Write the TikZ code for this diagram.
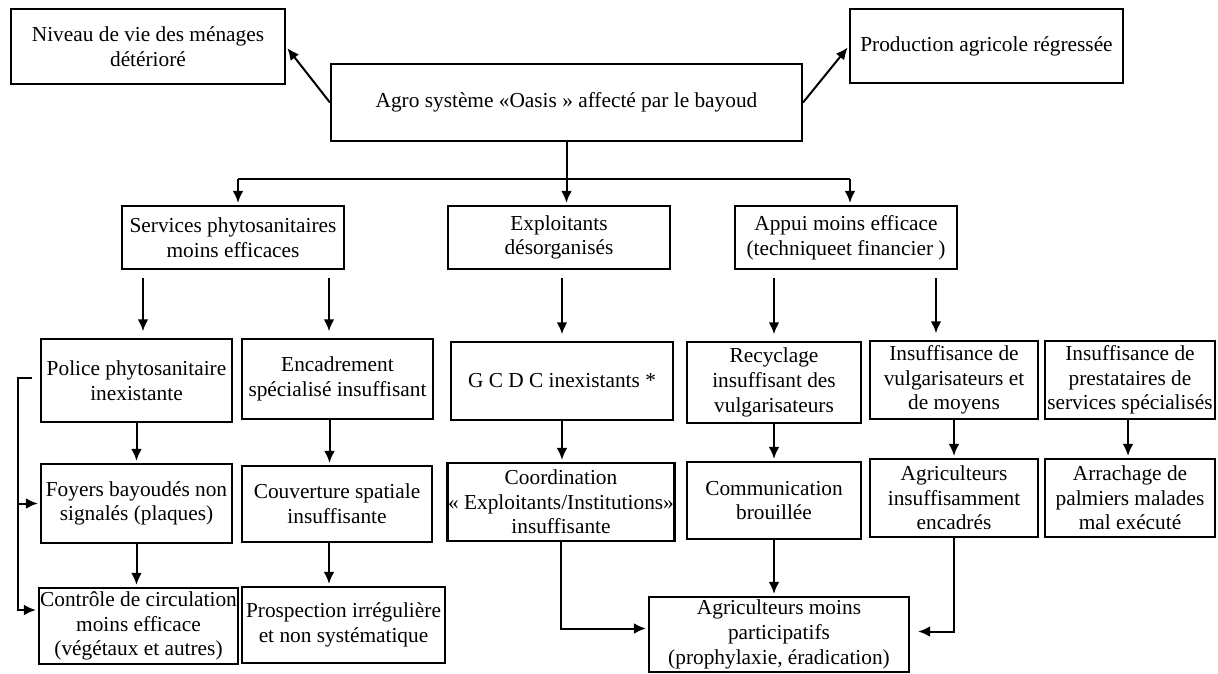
\documentclass[tikz,border=0pt]{standalone}
\usepackage{fontspec}
\setmainfont{Liberation Serif}
\usetikzlibrary{arrows.meta,calc}
\tikzset{
    box/.style 2 args={draw, line width=1.6pt, fill=white, align=center, inner sep=0.5pt,
                       minimum width=#1*0.75pt, minimum height=#2*0.75pt,
                       font=\fontsize{16}{18.5}\selectfont},
    flow/.style={-{Latex[length=9pt,width=8pt]}, line width=1.5pt, shorten >=1.5pt},
    link/.style={line width=1.5pt},
    gap/.style={shorten <=6pt, shorten >=5pt}
}
\begin{document}
\begin{tikzpicture}[x=0.75pt,y=-0.75pt]
  \useasboundingbox (0,0) rectangle (1218,674);
  \node[box={274}{75}] (niveau) at (148,46.5) {Niveau de vie des ménages\\détérioré};
  \node[box={273}{74}] (prod) at (986.5,46) {Production agricole régressée};
  \node[box={471}{77}] (agro) at (566.5,102.5) {Agro système «Oasis » affecté par le bayoud};

  \node[box={222}{63}] (services) at (233,237.5) {Services phytosanitaires\\moins efficaces};
  \node[box={222}{63}] (exploit) at (559,237.5) {Exploitants\\désorganisés};
  \node[box={222}{63}] (appui) at (846,237.5) {Appui moins efficace\\(techniqueet financier )};

  \node[box={191}{83}] (police) at (136.5,380.5) {Police phytosanitaire\\inexistante};
  \node[box={191}{80}] (encad) at (337.5,379) {Encadrement\\spécialisé insuffisant};
  \node[box={222}{78}] (gcdc) at (562,381) {G C D C inexistants *};
  \node[box={174}{81}] (recyc) at (774,382.5) {Recyclage\\insuffisant des\\vulgarisateurs};
  \node[box={168}{78}] (insvulg) at (954,380) {Insuffisance de\\vulgarisateurs et\\de moyens};
  \node[box={170}{78}] (insprest) at (1130,380) {Insuffisance de\\prestataires de\\services spécialisés};

  \node[box={191}{79}] (foyers) at (136.5,503.5) {Foyers bayoudés non\\signalés (plaques)};
  \node[box={190}{76}] (couv) at (337,504) {Couverture spatiale\\insuffisante};
  \node[box={222}{78}] (coord) at (561,502) {Coordination\\« Exploitants/Institutions»\\insuffisante};
  \node[box={174}{77}] (comm) at (774,500.5) {Communication\\brouillée};
  \node[box={168}{78}] (agrienc) at (954,498) {Agriculteurs\\insuffisamment\\encadrés};
  \node[box={170}{78}] (arrach) at (1130,498) {Arrachage de\\palmiers malades\\mal exécuté};

  \node[box={199}{76}] (controle) at (138.5,626) {Contrôle de circulation\\moins efficace\\(végétaux et autres)};
  \node[box={203}{76}] (prosp) at (343.5,625) {Prospection irrégulière\\et non systématique};
  \node[box={260}{75}] (agrimoins) at (779,634.5) {Agriculteurs moins\\participatifs\\(prophylaxie, éradication)};

  \draw[flow] (agro.west) -- (niveau.east);
  \draw[flow] (agro.east) -- (prod.west);

  \coordinate (bar) at (563,179);
  \draw[link] (agro.south) -- (agro.south |- bar);
  \draw[link] ($(bar -| services.north)+(5,0)$) -- ($(bar -| appui.north)+(4,0)$);
  \draw[flow] ($(bar -| services.north)+(5,0)$) -- ($(services.north)+(5,0)$);
  \draw[flow] (bar -| agro.south) -- (agro.south |- exploit.north);
  \draw[flow] ($(bar -| appui.north)+(4,0)$) -- ($(appui.north)+(4,0)$);

  \coordinate (s1) at ($(police.north)+(6.5,0)$);
  \coordinate (s2) at ($(encad.north)+(-8.5,0)$);
  \coordinate (s3) at ($(insvulg.north)+(-18,0)$);
  \draw[flow,gap] (services.south -| s1) -- (s1);
  \draw[flow,gap] (services.south -| s2) -- (s2);
  \draw[flow,gap] (exploit.south -| gcdc.north) -- (gcdc.north);
  \draw[flow,gap] (appui.south -| recyc.north) -- (recyc.north);
  \draw[flow,gap] (appui.south -| s3) -- (s3);

  \draw[flow] (police) -- (foyers);
  \draw[flow] ($(encad.south)+(-8,0)$) -- ($(encad.south |- couv.north)+(-8,0)$);
  \draw[flow] (gcdc.south) -- (gcdc.south |- coord.north);
  \draw[flow] (recyc) -- (comm);
  \draw[flow] (insvulg) -- (agrienc);
  \draw[flow] ($(insprest.south)+(-2,0)$) -- ($(arrach.north)+(-2,0)$);

  \draw[flow] (foyers) -- (controle.north -| foyers);
  \draw[flow] ($(couv.south)+(-8,0)$) -- ($(couv.south |- prosp.north)+(-8,0)$);
  \draw[flow] (comm) -- (comm |- agrimoins.north);
  \draw[flow] (coord.south) |- ($(agrimoins.west)+(0,-6)$);
  \draw[flow, shorten >=6pt] (agrienc.south) |- ($(agrimoins.east)+(0,-3)$);

  \coordinate (fbtop) at ($(police.west)+(-22,-3)$);
  \coordinate (fbend) at ($(controle.west)+(0,-16)$);
  \draw[flow, shorten <=6pt] ($(police.west)+(0,-3)$) -- (fbtop) |- (fbend);
  \draw[flow] (fbtop |- foyers.west) -- (foyers.west);
\end{tikzpicture}
\end{document}
